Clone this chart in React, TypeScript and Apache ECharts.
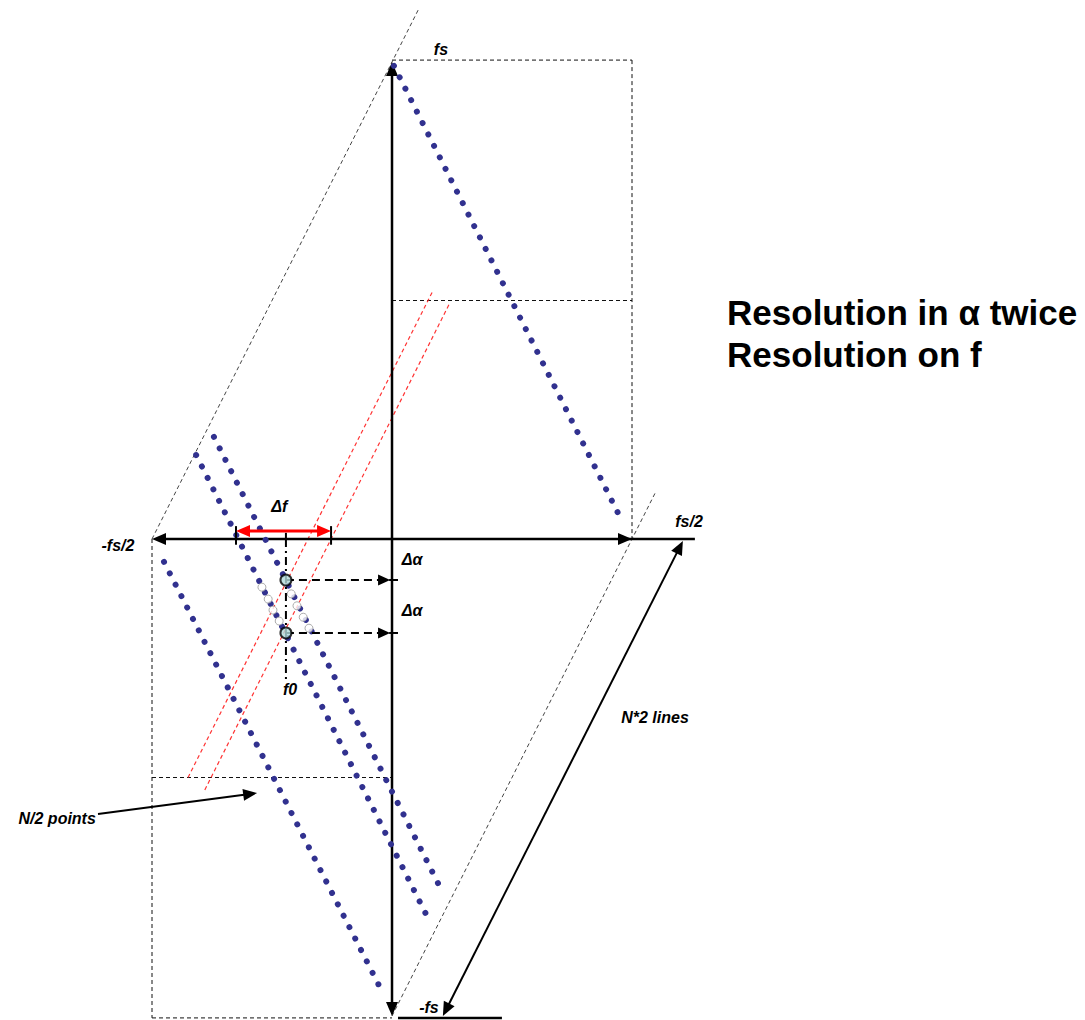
import React, { useEffect, useRef } from "react";
import * as echarts from "echarts";

// All coordinates are in units of the sampling frequency fs:
// x = spectral frequency f, y = cyclic frequency α.

// plot window (hidden value axes)
const X_RANGE = [-0.8167, 1.44375];
const Y_RANGE = [-1.00838, 1.12998];

// main axes: [f1, α1, f2, α2]
const F_AXIS = [-0.5, 0, 0.5, 0];
const F_AXIS_TAIL = [0.49, 0, 0.631, 0];
const ALPHA_AXIS = [0, -1.0, 0, 1.0];
const BOTTOM_BAR = [0.0125, -1.004, 0.229, -1.004];

// dashed frames of the support region
const FRAME_LINES = [
  [0, 1.004, 0.5, 1.004],
  [0.5, 1.004, 0.5, 0],
  [0, 0.5, 0.5, 0.5],
  [-0.5, 0, -0.5, -1.004],
  [-0.5, -1.004, 0, -1.004],
  [-0.5, -0.5, 0, -0.5],
];

// diamond borders (black dashed) and the two red dashed lines
const GUIDE_LINES = [
  [-0.5, 0, 0.056, 1.112],
  [0, -1.0, 0.55, 0.1],
];
const RED_LINES = [
  [-0.425, -0.5, 0.086, 0.522],
  [-0.39, -0.526, 0.12, 0.494],
];

// blue dotted lines (start and end sample)
const DOT_LINES = [
  [0.004, 0.992, 0.481, 0.034],
  [-0.475, -0.048, -0.019, -0.952],
  [-0.408, 0.176, 0.079, -0.803],
  [-0.371, 0.214, 0.106, -0.742],
];

// interleaved extra samples between the two f0 points
const EXTRA_F = [-0.271, -0.258, -0.248, -0.235, -0.21, -0.198, -0.185, -0.173];
const EXTRA_ALPHA = [-0.101, -0.126, -0.149, -0.172, -0.115, -0.14, -0.164, -0.187];

// f0, its two α samples and the Δf span
const F0 = -0.221;
const ALPHA_STEPS = [-0.086, -0.197];
const DELTA_F = [-0.325, -0.127];
const DELTA_F_LEVEL = 0.017;
const F0_DROP_END = -0.296;

// callout arrows
const LINES_CALLOUT = [0.106, -1.0, 0.606, -0.004];
const POINTS_CALLOUT = [-0.6125, -0.5765, -0.281, -0.5325];

// small labels
const LABEL_TEXT = ["fs", "fs/2", "-fs/2", "-fs", "Δf", "Δα", "Δα", "f0", "N*2 lines", "N/2 points"];
const LABEL_F = [0.102, 0.59, -0.571, 0.077, -0.235, 0.042, 0.042, -0.2125, 0.548, -0.617];
const LABEL_ALPHA = [1.027, 0.0377, -0.0126, -0.983, 0.069, -0.044, -0.149, -0.3145, -0.375, -0.585];
const LABEL_ALIGN = ["center", "left", "center", "center", "center", "center", "center", "center", "center", "right"];

// headline
const HEADLINE = ["Resolution in α twice", "Resolution on f"];
const HEADLINE_F = [0.698, 0.698];
const HEADLINE_ALPHA = [0.474, 0.386];

const BLUE = "#31318f";
const LABEL_FONT = 'italic bold 16px "Liberation Sans", Arial, sans-serif';

type Heads = { start?: boolean; end?: boolean; len?: number; hw?: number; fill?: string };

function arrowHead(tip: number[], ux: number, uy: number, len: number, hw: number, fill: string) {
  const bx = tip[0] - ux * len;
  const by = tip[1] - uy * len;
  const nx = -uy;
  const ny = ux;
  return {
    type: "polygon",
    shape: { points: [tip, [bx + nx * hw, by + ny * hw], [bx - nx * hw, by - ny * hw]] },
    style: { fill, stroke: "none" },
  };
}

function segments(name: string, rows: number[][], style: any, heads: Heads = {}, z = 2) {
  const len = heads.len ?? 13;
  const hw = heads.hw ?? 5.5;
  const fill = heads.fill ?? "#000";
  return {
    type: "custom",
    name,
    z,
    coordinateSystem: "cartesian2d",
    silent: true,
    encode: { x: [0, 2], y: [1, 3] },
    data: rows,
    renderItem: (_params: any, api: any) => {
      const p1 = api.coord([api.value(0), api.value(1)]);
      const p2 = api.coord([api.value(2), api.value(3)]);
      const dx = p2[0] - p1[0];
      const dy = p2[1] - p1[1];
      const d = Math.hypot(dx, dy) || 1;
      const ux = dx / d;
      const uy = dy / d;
      let s = p1;
      let e = p2;
      const children: any[] = [];
      if (heads.start) {
        s = [p1[0] + ux * len * 0.8, p1[1] + uy * len * 0.8];
        children.push(arrowHead(p1, -ux, -uy, len, hw, fill));
      }
      if (heads.end) {
        e = [p2[0] - ux * len * 0.8, p2[1] - uy * len * 0.8];
        children.push(arrowHead(p2, ux, uy, len, hw, fill));
      }
      children.unshift({
        type: "line",
        shape: { x1: s[0], y1: s[1], x2: e[0], y2: e[1] },
        style: { fill: "none", ...style },
      });
      return { type: "group", children };
    },
  };
}

function texts(name: string, f: number[], a: number[], txt: string[], align: string[], font: string) {
  return {
    type: "custom",
    name,
    z: 10,
    coordinateSystem: "cartesian2d",
    silent: true,
    encode: { x: 0, y: 1 },
    data: f.map((v, i) => [v, a[i], i]),
    renderItem: (_params: any, api: any) => {
      const p = api.coord([api.value(0), api.value(1)]);
      const i = api.value(2);
      return {
        type: "text",
        x: p[0],
        y: p[1],
        style: {
          text: txt[i],
          font,
          fill: "#000",
          align: align[i],
          verticalAlign: "middle",
        },
      };
    },
  };
}

export default function App() {
  const ref = useRef<HTMLDivElement>(null);

  useEffect(() => {
    if (!ref.current) return;
    const chart = echarts.init(ref.current, null, { renderer: "svg" });

    const extraPoints = EXTRA_F.map((f, i) => [f, EXTRA_ALPHA[i]]);
    const f0Points = ALPHA_STEPS.map((a) => [F0, a]);

    chart.setOption({
      animation: false,
      backgroundColor: "#fff",
      grid: { left: 0, right: 0, top: 0, bottom: 0 },
      xAxis: { type: "value", min: X_RANGE[0], max: X_RANGE[1], show: false },
      yAxis: { type: "value", min: Y_RANGE[0], max: Y_RANGE[1], show: false },
      series: [
        segments("frames", FRAME_LINES, { stroke: "#111", lineWidth: 1, lineDash: [4, 3] }, {}, 1),
        segments("guides", GUIDE_LINES, { stroke: "#444", lineWidth: 1, lineDash: [4, 3] }, {}, 1),
        segments("red", RED_LINES, { stroke: "#ff3333", lineWidth: 1.2, lineDash: [4, 3] }, {}, 1),
        segments("f-axis", [F_AXIS], { stroke: "#000", lineWidth: 2.5 }, { start: true, end: true, len: 14, hw: 6 }, 3),
        segments("f-axis-tail", [F_AXIS_TAIL], { stroke: "#000", lineWidth: 2.5 }, {}, 3),
        segments("alpha-axis", [ALPHA_AXIS], { stroke: "#000", lineWidth: 2.5 }, { start: true, end: true, len: 14, hw: 6 }, 3),
        segments("bottom-bar", [BOTTOM_BAR], { stroke: "#000", lineWidth: 2.5 }, {}, 3),
        segments(
          "dots",
          DOT_LINES,
          { stroke: BLUE, lineWidth: 6, lineDash: [0.001, 12.8], lineCap: "round" },
          {},
          4
        ),
        {
          type: "scatter",
          name: "extra samples",
          z: 5,
          silent: true,
          symbol: "circle",
          symbolSize: 8,
          itemStyle: { color: "#fff", borderColor: "#999", borderWidth: 1 },
          data: extraPoints,
        },
        segments(
          "pointers",
          ALPHA_STEPS.map((a) => [F0, a, -0.004, a]),
          { stroke: "#000", lineWidth: 2, lineDash: [8, 5] },
          { end: true, len: 12, hw: 5.5 },
          6
        ),
        segments(
          "pointer-ticks",
          ALPHA_STEPS.map((a) => [-0.006, a, 0.0125, a]),
          { stroke: "#000", lineWidth: 2 },
          {},
          6
        ),
        segments(
          "f-ticks",
          [
            [DELTA_F[0], 0.027, DELTA_F[0], -0.012],
            [DELTA_F[1], 0.027, DELTA_F[1], -0.012],
            [F0, 0.013, F0, 0],
          ],
          { stroke: "#000", lineWidth: 2 },
          {},
          6
        ),
        segments(
          "delta-f",
          [[DELTA_F[0], DELTA_F_LEVEL, DELTA_F[1], DELTA_F_LEVEL]],
          { stroke: "#ff0000", lineWidth: 3 },
          { start: true, end: true, len: 14, hw: 6, fill: "#ff0000" },
          7
        ),
        segments(
          "f0-drop",
          [[F0, 0, F0, F0_DROP_END]],
          { stroke: "#000", lineWidth: 2, lineDash: [8, 4, 2, 4] },
          {},
          6
        ),
        segments("lines-callout", [LINES_CALLOUT], { stroke: "#000", lineWidth: 2 }, { start: true, end: true, len: 14, hw: 6 }, 6),
        segments("points-callout", [POINTS_CALLOUT], { stroke: "#000", lineWidth: 2 }, { end: true, len: 14, hw: 6 }, 6),
        {
          type: "scatter",
          name: "f0 samples",
          z: 8,
          silent: true,
          symbol: "circle",
          symbolSize: 11,
          itemStyle: { color: "#b2dbdb", borderColor: "#000", borderWidth: 2 },
          data: f0Points,
        },
        texts("labels", LABEL_F, LABEL_ALPHA, LABEL_TEXT, LABEL_ALIGN, LABEL_FONT),
        texts(
          "headline",
          HEADLINE_F,
          HEADLINE_ALPHA,
          HEADLINE,
          ["left", "left"],
          'bold 35px "Liberation Sans", Arial, sans-serif'
        ),
      ],
    });

    return () => chart.dispose();
  }, []);

  return (
    <div
      ref={ref}
      style={{ position: "fixed", left: 0, top: 0, width: 1085, height: 1020, background: "#fff" }}
    />
  );
}
